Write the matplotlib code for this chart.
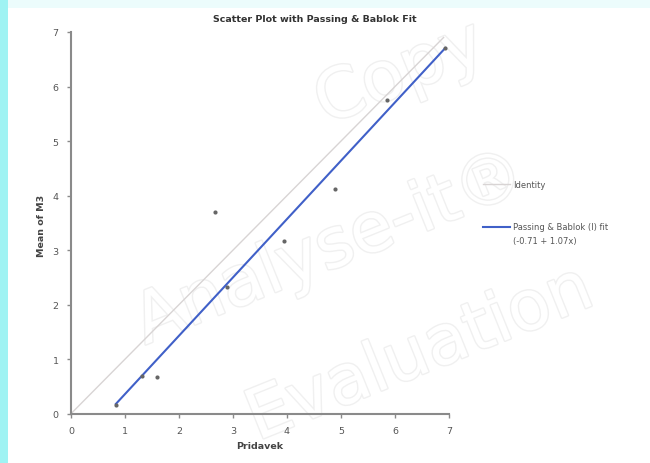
import matplotlib
matplotlib.use("Agg")
import matplotlib.pyplot as plt
import matplotlib.patheffects as pe
from matplotlib.patches import Rectangle
import numpy as np

# data
pridavek = [0.83, 1.31, 1.59, 2.67, 2.89, 3.94, 4.89, 5.85, 6.93]
mean_m3 = [0.16, 0.69, 0.68, 3.70, 2.33, 3.16, 4.12, 5.76, 6.70]
fit_intercept = -0.71
fit_slope = 1.07
identity_range = [0, 6.9]
x_ticks = [0, 1, 2, 3, 4, 5, 6, 7]
y_ticks = [0, 1, 2, 3, 4, 5, 6, 7]
title = "Scatter Plot with Passing & Bablok Fit"
xlabel = "Pridavek"
ylabel = "Mean of M3"
legend_identity = "Identity"
legend_fit = "Passing & Bablok (I) fit"
legend_fit_eq = "(-0.71 + 1.07x)"

W, H = 650, 464
fig = plt.figure(figsize=(W / 100, H / 100), dpi=100)
fig.patch.set_facecolor("white")

# background bands
fig.patches.append(Rectangle((0, 1 - 9 / H), 1, 9 / H, transform=fig.transFigure,
                             facecolor="#ecfcfc", edgecolor="none", zorder=0))
fig.patches.append(Rectangle((0, 0), 8 / W, 1, transform=fig.transFigure,
                             facecolor="#9ff3f3", edgecolor="none", zorder=0))

# watermark (faint outlined text)
wm = dict(color="white", fontsize=50, rotation=22, ha="center", va="center",
          fontweight="normal", zorder=1, family="DejaVu Sans",
          path_effects=[pe.withStroke(linewidth=2.0, foreground="#f0f0f0")])
fig.text(400 / W, 1 - 75 / H, "Copy", **wm)
fig.text(330 / W, 1 - 250 / H, "Analyse-it®", **wm)
fig.text(420 / W, 1 - 355 / H, "Evaluation", **wm)

ax = fig.add_axes([71 / W, 1 - 414.7 / H, 378 / W, 381.7 / H])
ax.set_facecolor("none")
ax.set_zorder(2)

ax.plot(identity_range, identity_range, color="#d8d4d4", lw=1.0, zorder=2)
fx = np.array([min(pridavek), max(pridavek)])
ax.plot(fx, fit_intercept + fit_slope * fx, color="#4060c8", lw=1.5, zorder=3)
ax.scatter(pridavek, mean_m3, s=9, marker="o", color="#666666", zorder=4, linewidths=0)

ax.set_xlim(0, 7)
ax.set_ylim(0, 7)
ax.set_xticks(x_ticks)
ax.set_yticks(y_ticks)
for s in ["top", "right"]:
    ax.spines[s].set_visible(False)
for s in ["left", "bottom"]:
    ax.spines[s].set_color("#8a8a8a")
    ax.spines[s].set_linewidth(1.5)
ax.tick_params(axis="both", colors="#8a8a8a", labelcolor="#555555", labelsize=6.8,
               length=3, width=1, direction="out", pad=6)

fig.text(315 / W, 1 - 20 / H, title, ha="center", va="center", fontsize=6.8,
         fontweight="bold", color="#333333")
fig.text(260 / W, 1 - 447 / H, xlabel, ha="center", va="center", fontsize=6.8,
         fontweight="bold", color="#444444")
fig.text(41 / W, 1 - 226 / H, ylabel, ha="center", va="center", fontsize=6.8,
         fontweight="bold", color="#444444", rotation=90)

# legend (drawn manually in figure coords)
fig.lines.append(plt.Line2D([483 / W, 510 / W], [1 - 185 / H, 1 - 185 / H],
                            transform=fig.transFigure, color="#d8d4d4", lw=1.0))
fig.text(513 / W, 1 - 185 / H, legend_identity, ha="left", va="center",
         fontsize=6, color="#555555")
fig.lines.append(plt.Line2D([483 / W, 510 / W], [1 - 228 / H, 1 - 228 / H],
                            transform=fig.transFigure, color="#4060c8", lw=1.5))
fig.text(513 / W, 1 - 228 / H, legend_fit, ha="left", va="center",
         fontsize=6, color="#555555")
fig.text(513 / W, 1 - 242 / H, legend_fit_eq, ha="left", va="center",
         fontsize=6, color="#555555")

fig.savefig("out.png", dpi=100)
